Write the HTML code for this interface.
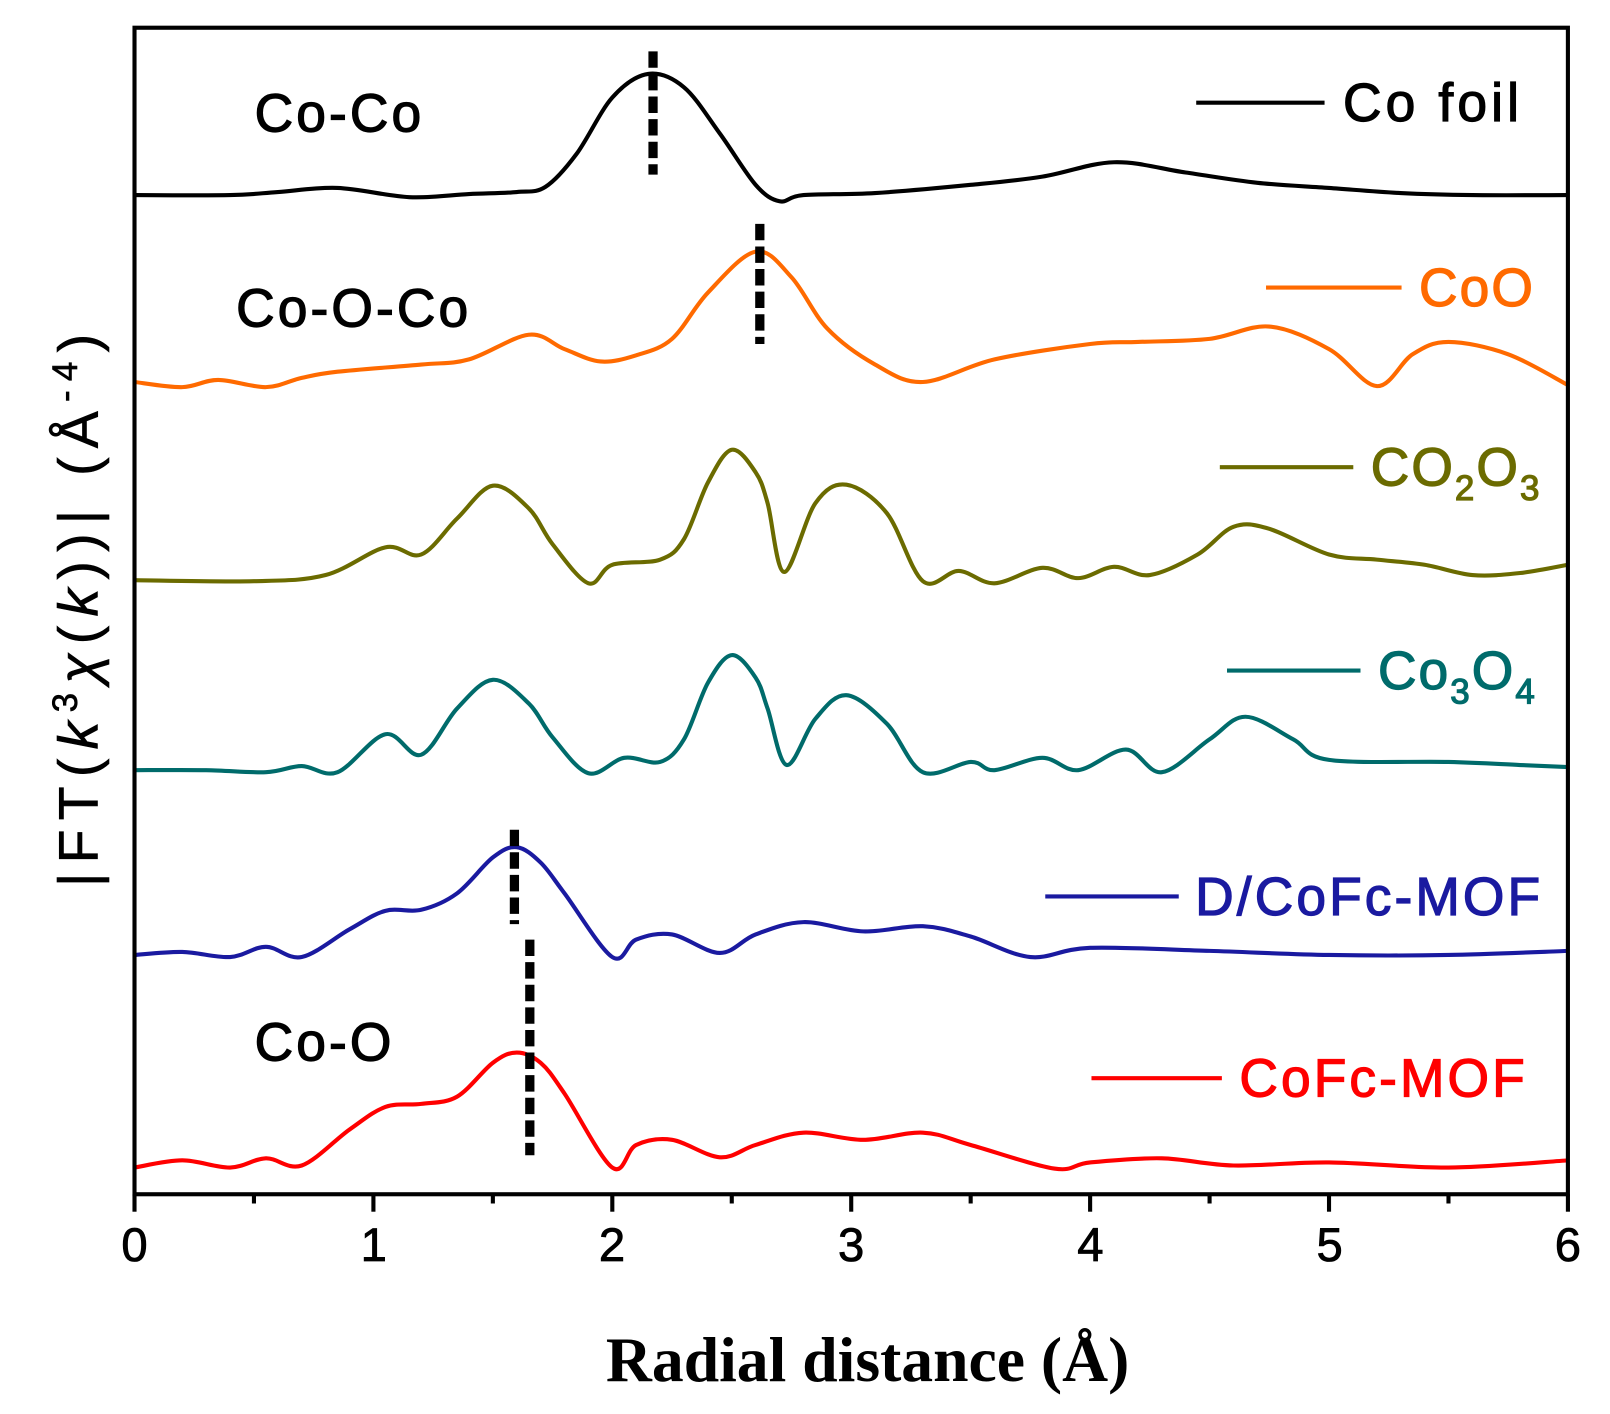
<!DOCTYPE html>
<html><head><meta charset="utf-8"><style>
html,body{margin:0;padding:0;background:#fff;}
svg{display:block;}
text{font-family:"Liberation Sans",Arial,sans-serif;}
</style></head><body>
<svg id="s" width="1610" height="1414" viewBox="0 0 1568 1377" preserveAspectRatio="none" xmlns="http://www.w3.org/2000/svg">
<rect x="0" y="0" width="1568" height="1377" fill="#fff"/>
<g id="curves" fill="none" stroke-width="4" stroke-linejoin="round"></g>
<rect x="131" y="27" width="1396" height="1136" fill="none" stroke="#000" stroke-width="4"/>
<g id="ticks" stroke="#000" stroke-width="4"></g>
<g fill="#000" stroke="#000" stroke-width="0.8" font-size="46" text-anchor="middle">
<text x="131" y="1228">0</text><text x="364" y="1228">1</text><text x="596" y="1228">2</text>
<text x="829" y="1228">3</text><text x="1062" y="1228">4</text><text x="1295" y="1228">5</text><text x="1527" y="1228">6</text>
</g>
<text x="845" y="1345" text-anchor="middle" font-size="62" font-weight="bold" style="font-family:'Liberation Serif',serif">Radial distance (Å)</text>
<text transform="translate(95,590) rotate(-90)" text-anchor="middle" font-size="54" letter-spacing="9" stroke="#000" stroke-width="0.6">|FT(<tspan font-style="italic">k</tspan><tspan dy="-20" font-size="34">3</tspan><tspan dy="20" font-style="italic">χ</tspan>(<tspan font-style="italic">k</tspan>))| (Å<tspan dy="-20" font-size="34">-4</tspan><tspan dy="20">)</tspan></text>
<g font-size="52" fill="#000" stroke="#000" stroke-width="1.2" letter-spacing="3">
<text x="248" y="128">Co-Co</text>
<text x="230" y="318">Co-O-Co</text>
<text x="248" y="1033">Co-O</text>
</g>
<g stroke-width="4">
<line x1="1165" y1="100" x2="1290" y2="100" stroke="#000"/>
<line x1="1233" y1="280" x2="1365" y2="280" stroke="#ff6a00"/>
<line x1="1188" y1="455" x2="1318" y2="455" stroke="#6b6b00"/>
<line x1="1195" y1="653" x2="1325" y2="653" stroke="#006b6b"/>
<line x1="1018" y1="873" x2="1148" y2="873" stroke="#1a1aa0"/>
<line x1="1063" y1="1050" x2="1190" y2="1050" stroke="#ff0000"/>
</g>
<g font-size="52" stroke-width="1.2" letter-spacing="2">
<text x="1308" y="118" fill="#000" stroke="#000" letter-spacing="4">Co foil</text>
<text x="1382" y="298" fill="#ff6a00" stroke="#ff6a00">CoO</text>
<text x="1335" y="473" fill="#6b6b00" stroke="#6b6b00">CO<tspan dy="14" font-size="34">2</tspan><tspan dy="-14">O</tspan><tspan dy="14" font-size="34">3</tspan></text>
<text x="1342" y="671" fill="#006b6b" stroke="#006b6b">Co<tspan dy="14" font-size="34">3</tspan><tspan dy="-14">O</tspan><tspan dy="14" font-size="34">4</tspan></text>
<text x="1164" y="891" fill="#1a1aa0" stroke="#1a1aa0" letter-spacing="3">D/CoFc-MOF</text>
<text x="1207" y="1068" fill="#ff0000" stroke="#ff0000" letter-spacing="3">CoFc-MOF</text>
</g>
<g stroke="#000" stroke-width="9" stroke-dasharray="16,6">
<line x1="636" y1="50" x2="636" y2="170"/>
<line x1="740" y1="218" x2="740" y2="335"/>
<line x1="501" y1="808" x2="501" y2="900"/>
<line x1="516" y1="915" x2="516" y2="1125"/>
</g>
</svg>
<script>
var X=function(v){return 131+v*232.67;};
var data=[
["#000",[[0,190],[0.4,190],[0.6,187],[0.85,183],[1.15,192],[1.4,189],[1.6,187],[1.72,182],[1.85,150],[2.0,95],[2.15,72],[2.3,85],[2.45,130],[2.6,180],[2.7,196],[2.8,190],[3.1,188],[3.5,180],[3.8,172],[4.1,158],[4.4,168],[4.7,178],[5.0,183],[5.3,188],[5.6,190],[6.0,190]]],
["#ff6a00",[[0,372],[0.2,377],[0.35,370],[0.55,377],[0.7,368],[0.85,362],[1.2,355],[1.4,350],[1.65,326],[1.8,340],[1.95,352],[2.1,346],[2.25,330],[2.4,285],[2.6,245],[2.75,270],[2.9,320],[3.1,355],[3.3,372],[3.6,350],[4.0,335],[4.2,333],[4.5,330],[4.75,318],[5.0,340],[5.2,376],[5.35,345],[5.5,333],[5.75,345],[6.0,375]]],
["#6b6b00",[[0,565],[0.5,566],[0.8,560],[1.05,533],[1.2,540],[1.35,505],[1.5,473],[1.65,495],[1.75,530],[1.9,568],[2.0,550],[2.2,545],[2.3,525],[2.4,470],[2.5,438],[2.6,460],[2.65,490],[2.72,557],[2.85,490],[2.98,472],[3.15,500],[3.3,566],[3.45,556],[3.6,568],[3.8,553],[3.95,563],[4.1,552],[4.25,560],[4.45,540],[4.6,513],[4.75,515],[5.0,540],[5.2,545],[5.4,550],[5.6,560],[5.8,558],[6.0,550]]],
["#006b6b",[[0,750],[0.3,750],[0.55,752],[0.7,746],[0.85,752],[1.05,715],[1.2,735],[1.35,690],[1.5,662],[1.65,685],[1.75,718],[1.9,753],[2.05,738],[2.2,742],[2.3,720],[2.4,665],[2.5,638],[2.6,660],[2.65,690],[2.73,745],[2.85,700],[2.98,677],[3.15,705],[3.3,752],[3.5,742],[3.6,750],[3.8,738],[3.95,750],[4.15,730],[4.3,752],[4.5,720],[4.65,698],[4.85,720],[5.0,740],[5.5,742],[5.8,745],[6.0,747]]],
["#1a1aa0",[[0,930],[0.2,927],[0.4,932],[0.55,922],[0.7,932],[0.9,905],[1.05,887],[1.2,886],[1.35,870],[1.5,835],[1.6,825],[1.7,840],[1.8,870],[2.0,932],[2.1,915],[2.25,910],[2.45,928],[2.6,910],[2.8,898],[3.05,907],[3.3,902],[3.5,912],[3.75,932],[4.0,923],[4.5,926],[5.0,930],[5.5,930],[6.0,926]]],
["#ff0000",[[0,1137],[0.2,1130],[0.4,1137],[0.55,1128],[0.7,1135],[0.9,1100],[1.05,1078],[1.2,1075],[1.35,1068],[1.5,1035],[1.6,1025],[1.7,1035],[1.8,1065],[2.0,1137],[2.1,1115],[2.25,1110],[2.45,1127],[2.6,1115],[2.8,1103],[3.05,1110],[3.3,1103],[3.5,1115],[3.85,1138],[4.0,1132],[4.3,1128],[4.6,1135],[5.0,1132],[5.5,1137],[6.0,1130]]]
];
var ns="http://www.w3.org/2000/svg",g=document.getElementById("curves");
data.forEach(function(d){
 var p=d[1].map(function(a){return [X(a[0]),a[1]];}),s="M"+p[0][0]+","+p[0][1];
 for(var i=0;i<p.length-1;i++){
  var p0=p[i-1]||p[i],p1=p[i],p2=p[i+1],p3=p[i+2]||p2;
  s+=" C"+(p1[0]+(p2[0]-p0[0])/6)+","+(p1[1]+(p2[1]-p0[1])/6)+" "+(p2[0]-(p3[0]-p1[0])/6)+","+(p2[1]-(p3[1]-p1[1])/6)+" "+p2[0]+","+p2[1];
 }
 var e=document.createElementNS(ns,"path");e.setAttribute("d",s);e.setAttribute("stroke",d[0]);g.appendChild(e);
});
var t=document.getElementById("ticks");
for(var k=0;k<=12;k++){var x=X(k/2),l=document.createElementNS(ns,"line");
 l.setAttribute("x1",x);l.setAttribute("x2",x);l.setAttribute("y1",1163);l.setAttribute("y2",k%2?1172:1180);t.appendChild(l);}
</script>
</body></html>
